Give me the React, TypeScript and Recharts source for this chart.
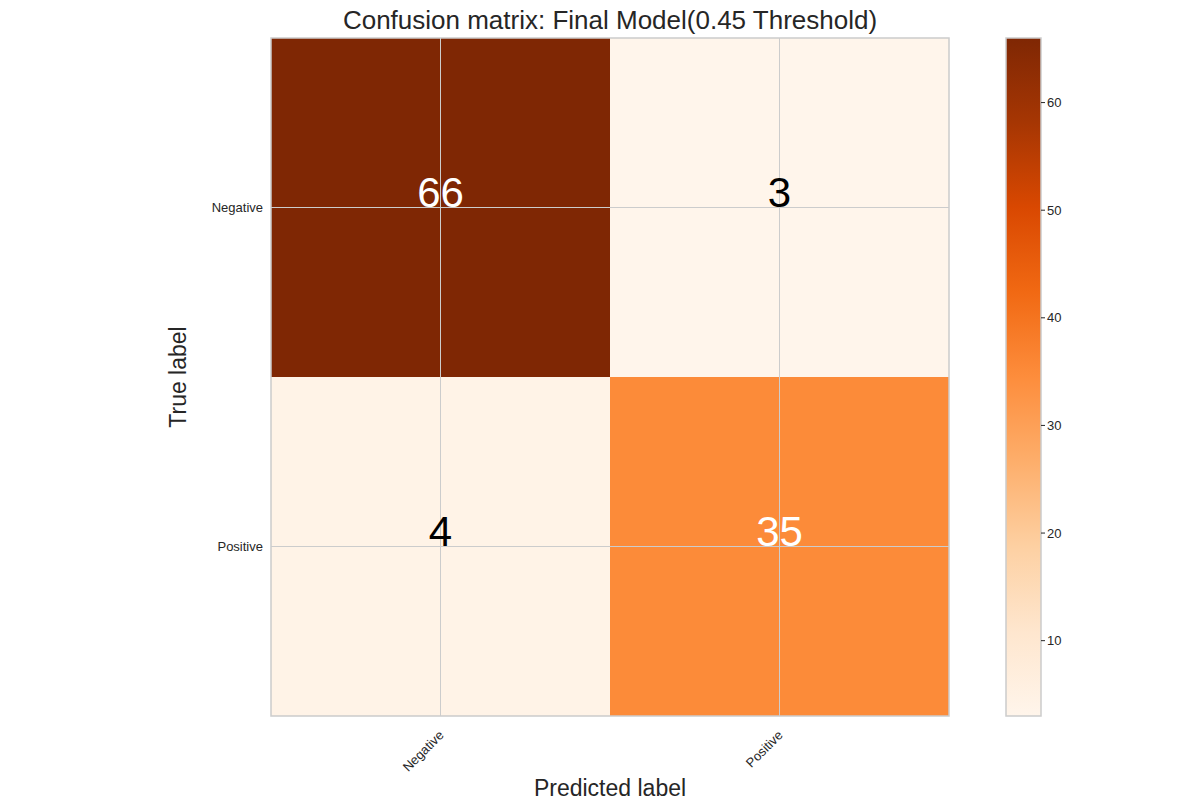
import {
  ComposedChart,
  ReferenceArea,
  ReferenceLine,
  XAxis,
  YAxis,
} from "recharts";

const classLabels = ["Negative", "Positive"];
// rows = true label, cols = predicted label
const matrix = [
  [66, 3],
  [4, 35],
];
const colorbarTicks = [10, 20, 30, 40, 50, 60];
const vmin = 3;
const vmax = 66;

// matplotlib "Oranges" stops
const oranges = [
  "#fff5eb", "#fee6ce", "#fdd0a2", "#fdae6b", "#fd8d3c",
  "#f16913", "#d94801", "#a63603", "#7f2704",
];

function hexToRgb(h: string) {
  return [1, 3, 5].map((i) => parseInt(h.slice(i, i + 2), 16));
}

function colorFor(v: number) {
  const t = Math.max(0, Math.min(1, (v - vmin) / (vmax - vmin)));
  const pos = t * (oranges.length - 1);
  const i = Math.min(Math.floor(pos), oranges.length - 2);
  const f = pos - i;
  const a = hexToRgb(oranges[i]);
  const b = hexToRgb(oranges[i + 1]);
  const c = a.map((x, k) => Math.round(x + (b[k] - x) * f));
  return `rgb(${c[0]},${c[1]},${c[2]})`;
}

const font = "'Liberation Sans', Arial, sans-serif";
const grid = "#cccccc";
const axisData = [{ x: -0.5, y: -0.5 }, { x: 1.5, y: 1.5 }];
const barData = [{ x: 0, y: vmin }, { x: 1, y: vmax }];

function XTick(props: any) {
  const { x, y, payload } = props;
  return (
    <text
      x={x + 4}
      y={y + 12}
      textAnchor="end"
      fontSize={13}
      fill="#262626"
      fontFamily={font}
      transform={`rotate(-45 ${x + 4} ${y + 12})`}
    >
      {classLabels[payload.value]}
    </text>
  );
}

export default function App() {
  return (
    <div style={{ position: "absolute", left: 0, top: 0, width: 1200, height: 800, background: "#fff", fontFamily: font, overflow: "hidden" }}>
      <div style={{ position: "absolute", top: 5, left: 271, width: 678, textAlign: "center", fontSize: 26, color: "#262626" }}>
        Confusion matrix: Final Model(0.45 Threshold)
      </div>
      <div style={{ position: "absolute", left: 178, top: 377, transform: "translate(-50%,-50%) rotate(-90deg)", fontSize: 23, color: "#262626", whiteSpace: "nowrap" }}>
        True label
      </div>
      <div style={{ position: "absolute", left: 610, top: 788, transform: "translate(-50%,-50%)", fontSize: 23, color: "#262626", whiteSpace: "nowrap" }}>
        Predicted label
      </div>

      <div style={{ position: "absolute", left: 0, top: 0 }}>
        <ComposedChart width={1000} height={800} data={axisData} margin={{ top: 38, left: 211, right: 51, bottom: 24 }}>
          <XAxis type="number" dataKey="x" domain={[-0.5, 1.5]} ticks={[0, 1]} tick={<XTick />} axisLine={false} tickLine={false} height={60} allowDataOverflow />
          <YAxis
            type="number"
            dataKey="y"
            domain={[-0.5, 1.5]}
            ticks={[0, 1]}
            reversed
            width={60}
            axisLine={false}
            tickLine={false}
            allowDataOverflow
            tickFormatter={(v: number) => classLabels[v]}
            tick={{ fontSize: 13, fill: "#262626", fontFamily: font }}
          />
          {matrix.map((row, r) =>
            row.map((v, c) => (
              <ReferenceArea
                key={`${r}-${c}`}
                x1={c - 0.5}
                x2={c + 0.5}
                y1={r - 0.5}
                y2={r + 0.5}
                fill={colorFor(v)}
                fillOpacity={1}
                stroke="none"
                ifOverflow="visible"
                label={{ value: String(v), position: "center", fontSize: 42, fill: v > 30 ? "#ffffff" : "#000000", fontFamily: font, dy: -15 }}
              />
            ))
          )}
          {[0, 1].map((t) => (
            <ReferenceLine key={`vx${t}`} x={t} stroke={grid} strokeWidth={1} />
          ))}
          {[0, 1].map((t) => (
            <ReferenceLine key={`hy${t}`} y={t} stroke={grid} strokeWidth={1} />
          ))}
          <ReferenceArea x1={-0.5} x2={1.5} y1={-0.5} y2={1.5} fill="none" stroke={grid} strokeWidth={1.5} ifOverflow="visible" />
        </ComposedChart>
      </div>

      <div style={{ position: "absolute", left: 1000, top: 0 }}>
        <ComposedChart width={200} height={800} data={barData} margin={{ top: 38, left: 6, right: 109, bottom: 84 }}>
          <defs>
            <linearGradient id="cbar" x1="0" y1="1" x2="0" y2="0">
              {oranges.map((c, i) => (
                <stop key={c} offset={`${(i / (oranges.length - 1)) * 100}%`} stopColor={c} />
              ))}
            </linearGradient>
          </defs>
          <XAxis type="number" dataKey="x" domain={[0, 1]} hide height={0} />
          <YAxis
            type="number"
            dataKey="y"
            orientation="right"
            domain={[vmin, vmax]}
            ticks={colorbarTicks}
            width={50}
            axisLine={false}
            tickLine={{ stroke: "#262626" }}
            tickSize={4}
            tick={{ fontSize: 13, fill: "#262626", fontFamily: font }}
          />
          <ReferenceArea x1={0} x2={1} y1={vmin} y2={vmax} fill="url(#cbar)" fillOpacity={1} stroke={grid} strokeWidth={1.5} />
        </ComposedChart>
      </div>
    </div>
  );
}
